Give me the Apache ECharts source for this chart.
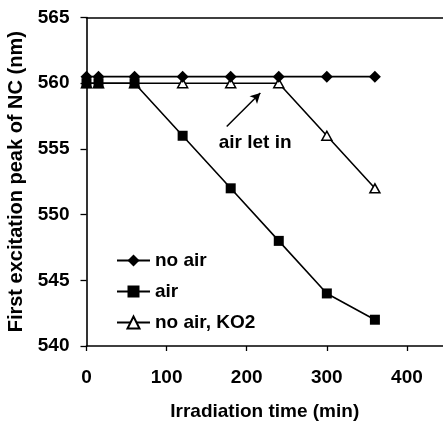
<!DOCTYPE html>
<html>
<head>
<meta charset="utf-8">
<script src="https://cdn.jsdelivr.net/npm/echarts@6/dist/echarts.min.js"></script>
<style>
html,body{margin:0;padding:0;background:#fff;}
#chart{width:443px;height:422px;}
</style>
</head>
<body>
<div id="chart"></div>
<script>
// Data
const times = [0, 15, 60, 120, 180, 240, 300, 360];
const noAir = [560.5, 560.5, 560.5, 560.5, 560.5, 560.5, 560.5, 560.5];
const air = [560, 560, 560, 556, 552, 548, 544, 542];
const noAirKO2 = [560, 560, 560, 560, 560, 560, 556, 552];
const seriesNames = ['no air', 'air', 'no air, KO2'];
const xTicks = [0, 100, 200, 300, 400];
const yTicks = [540, 545, 550, 555, 560, 565];
const annotationText = 'air let in';
const arrowFrom = [175, 556.7];
const arrowTo = [217, 559.25];
const annotationAt = [210.5, 555.5];

const FONT = "'Liberation Sans', Arial, sans-serif";
const pairs = (ys) => times.map((t, i) => [t, ys[i]]);

const chart = echarts.init(document.getElementById('chart'), null, {renderer: 'canvas'});
const lineStyle = {color: '#000', width: 1.6};

chart.setOption({
  animation: false,
  backgroundColor: '#fff',
  textStyle: {fontFamily: FONT},
  grid: {left: 86.5, right: 0, top: 17.5, bottom: 76, containLabel: false, outerBoundsMode: 'none'},
  legend: {
    orient: 'vertical',
    left: 111,
    top: 246,
    itemWidth: 33,
    itemHeight: 15,
    itemGap: 12,
    data: seriesNames,
    textStyle: {fontFamily: FONT, fontWeight: 'bold', fontSize: 19, color: '#000', lineHeight: 19}
  },
  xAxis: [{
    type: 'value',
    min: 0, max: 445, interval: 100,
    name: 'Irradiation time (min)',
    nameLocation: 'middle',
    nameGap: 56,
    nameTextStyle: {fontFamily: FONT, fontWeight: 'bold', fontSize: 19, color: '#000'},
    axisLine: {show: true, lineStyle: {color: '#000', width: 1.6}},
    axisTick: {show: true, inside: false, length: 5, lineStyle: {color: '#000', width: 1.3}},
    axisLabel: {
      margin: 22, fontFamily: FONT, fontWeight: 'bold', fontSize: 19, color: '#000',
      showMaxLabel: false,
      formatter: (v) => xTicks.includes(v) ? String(v) : ''
    },
    splitLine: {show: false}
  }, {
    type: 'value',
    position: 'top',
    min: 0, max: 445,
    axisLine: {show: true, lineStyle: {color: '#000', width: 1.6}},
    axisTick: {show: false},
    axisLabel: {show: false},
    splitLine: {show: false}
  }],
  yAxis: {
    type: 'value',
    min: 540, max: 565, interval: 5,
    name: 'First excitation peak of NC (nm)',
    nameLocation: 'middle',
    nameGap: 53,
    nameTextStyle: {fontFamily: FONT, fontWeight: 'bold', fontSize: 20, color: '#000'},
    axisLine: {show: true, lineStyle: {color: '#000', width: 1.6}},
    axisTick: {show: true, inside: false, length: 6, lineStyle: {color: '#000', width: 1.3}},
    axisLabel: {
      margin: 17, fontFamily: FONT, fontWeight: 'bold', fontSize: 19, color: '#000',
      formatter: (v) => yTicks.includes(v) ? String(v) : ''
    },
    splitLine: {show: false}
  },
  series: [
    {
      name: seriesNames[0], type: 'line', data: pairs(noAir),
      symbol: 'diamond', symbolSize: 12,
      itemStyle: {color: '#000'}, lineStyle: lineStyle, z: 3
    },
    {
      name: seriesNames[1], type: 'line', data: pairs(air),
      symbol: 'rect', symbolSize: 10,
      itemStyle: {color: '#000'}, lineStyle: lineStyle, z: 4
    },
    {
      name: seriesNames[2], type: 'line', data: pairs(noAirKO2),
      symbol: 'triangle', symbolSize: [10, 9],
      itemStyle: {color: '#fff', borderColor: '#000', borderWidth: 1.5}, lineStyle: lineStyle, z: 2,
      markLine: {
        silent: true,
        symbol: ['none', 'arrow'],
        symbolSize: [8, 10],
        lineStyle: {color: '#000', width: 1.5, type: 'solid'},
        label: {show: false},
        data: [[{coord: arrowFrom}, {coord: arrowTo}]]
      },
      markPoint: {
        silent: true,
        symbol: 'circle', symbolSize: 0,
        label: {show: true, formatter: annotationText, position: 'inside',
          fontFamily: FONT, fontWeight: 'bold', fontSize: 19, color: '#000'},
        data: [{coord: annotationAt}]
      }
    }
  ]
});
</script>
</body>
</html>
